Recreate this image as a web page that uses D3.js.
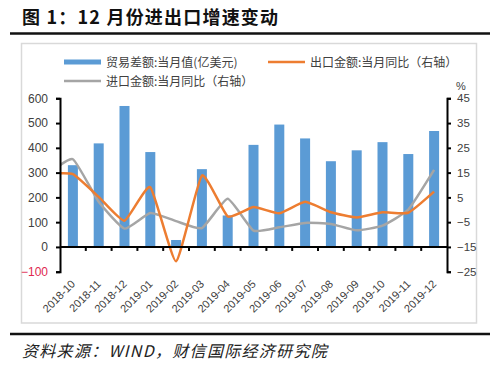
<!DOCTYPE html>
<html>
<head>
<meta charset="utf-8">
<script src="https://cdn.jsdelivr.net/npm/d3@7"></script>
<style>
  body { margin: 0; background: #fff; }
  svg { display: block; font-family: "Noto Sans CJK SC", "Noto Sans", sans-serif; }
</style>
</head>
<body>
<svg id="chart" width="500" height="368"></svg>
<script>
// months: first one (2018-09) only feeds the lines and sits left of the axis
const months = ['2018-09', '2018-10', '2018-11', '2018-12', '2019-01', '2019-02', '2019-03',
  '2019-04', '2019-05', '2019-06', '2019-07', '2019-08', '2019-09', '2019-10', '2019-11', '2019-12'];
const barMonths = months.slice(1);

// 贸易差额:当月值(亿美元)
const balance = [330, 418, 569, 383, 28, 314, 127, 412, 494, 438, 346, 390, 423, 375, 468];
// 出口金额:当月同比 (%)
const exportYoY = [14.5, 14.4, 5.2, -4.4, 9.1, -20.8, 13.8, -2.7, 1.1, -1.4, 3.2, -1.0, -3.1, -1.0, -1.2, 7.3];
// 进口金额:当月同比 (%)
const importYoY = [14.2, 20.4, 3.2, -7.6, -1.3, -4.6, -7.4, 4.4, -8.4, -7.1, -5.3, -5.7, -8.3, -6.4, 0.1, 16.1];

const leftTicks = [-100, 0, 100, 200, 300, 400, 500, 600];
const rightTicks = [-25, -15, -5, 5, 15, 25, 35, 45];

const svg = d3.select('#chart');
const plot = { left: 60, right: 447, top: 98.3, bottom: 271.7 };
const step = (plot.right - plot.left) / barMonths.length;

// band scale reaches one step further left so 2018-09 has a spot (clipped)
const x = d3.scaleBand()
    .domain(months)
    .range([plot.left - step, plot.right])
    .paddingInner(0);
const yL = d3.scaleLinear().domain([-100, 600]).range([plot.bottom, plot.top]);
const yR = d3.scaleLinear().domain([-25, 45]).range([plot.bottom, plot.top]);

// title + rules
svg.append('text')
    .attr('x', 22).attr('y', 24)
    .attr('font-size', 18).attr('font-weight', 'bold')
    .attr('letter-spacing', 1.2)
    .attr('fill', '#111')
    .text('图 1：12 月份进出口增速变动');
svg.append('line').attr('x1', 10).attr('x2', 490).attr('y1', 33.5).attr('y2', 33.5)
    .attr('stroke', '#111').attr('stroke-width', 2.5);
svg.append('line').attr('x1', 10).attr('x2', 490).attr('y1', 334).attr('y2', 334)
    .attr('stroke', '#111').attr('stroke-width', 2.5);
svg.append('text')
    .attr('x', 22).attr('y', 357)
    .attr('font-size', 16).attr('font-style', 'italic')
    .attr('letter-spacing', 1.3)
    .attr('fill', '#222')
    .text('资料来源：WIND，财信国际经济研究院');

// chart frame
svg.append('rect')
    .attr('x', 21.5).attr('y', 43.5).attr('width', 455).attr('height', 279.5)
    .attr('fill', 'none').attr('stroke', '#d9d9d9').attr('stroke-width', 1.5);

// bars
const barW = 10;
svg.append('g').selectAll('rect')
    .data(barMonths.map((m, i) => ({ m, v: balance[i] })))
    .join('rect')
    .attr('x', d => x(d.m) + x.bandwidth() / 2 - barW / 2)
    .attr('width', barW)
    .attr('y', d => yL(Math.max(0, d.v)))
    .attr('height', d => Math.abs(yL(d.v) - yL(0)))
    .attr('fill', '#5b9bd5');

// lines, clipped to the plot
svg.append('clipPath').attr('id', 'clip')
    .append('rect')
    .attr('x', plot.left).attr('y', 40)
    .attr('width', plot.right - plot.left).attr('height', 260);

const line = d3.line()
    .x((d, i) => x(months[i]) + x.bandwidth() / 2)
    .y(d => yR(d))
    .curve(d3.curveCardinal.tension(0.55));

const lines = svg.append('g').attr('clip-path', 'url(#clip)');
lines.append('path').datum(importYoY)
    .attr('d', line).attr('fill', 'none')
    .attr('stroke', '#a5a5a5').attr('stroke-width', 2.5);
lines.append('path').datum(exportYoY)
    .attr('d', line).attr('fill', 'none')
    .attr('stroke', '#ed7d31').attr('stroke-width', 2.5);

// left axis
const gL = svg.append('g')
    .attr('transform', `translate(${plot.left},0)`)
    .call(d3.axisLeft(yL).tickValues(leftTicks).tickSize(4).tickPadding(8));
// right axis
const gR = svg.append('g')
    .attr('transform', `translate(${plot.right},0)`)
    .call(d3.axisRight(yR).tickValues(rightTicks).tickSize(4).tickPadding(6));

[gL, gR].forEach(g => {
  g.select('.domain').attr('stroke', '#000').attr('stroke-width', 2);
  g.selectAll('.tick line').attr('stroke', '#000').attr('stroke-width', 2);
  g.selectAll('.tick text')
      .attr('font-size', 12)
      .attr('font-family', '"Liberation Sans", Arial, sans-serif')
      .attr('fill', '#404040');
});
gL.selectAll('.tick text').filter(d => d < 0).attr('fill', '#e0284f');
gR.selectAll('.tick text').attr('font-size', 11.5);

svg.append('text')
    .attr('x', 456).attr('y', 90)
    .attr('font-size', 11).attr('fill', '#404040')
    .attr('font-family', '"Liberation Sans", Arial, sans-serif')
    .text('%');

// x axis at zero, ticks between categories
const xAxisScale = d3.scaleBand().domain(barMonths).range([plot.left, plot.right]);
const gX = svg.append('g')
    .attr('transform', `translate(0,${yL(0)})`);
gX.append('line')
    .attr('x1', plot.left).attr('x2', plot.right)
    .attr('stroke', '#000').attr('stroke-width', 2);
gX.selectAll('.tk')
    .data(barMonths.slice(1))
    .join('line')
    .attr('class', 'tk')
    .attr('x1', d => xAxisScale(d)).attr('x2', d => xAxisScale(d))
    .attr('y1', 0).attr('y2', 4)
    .attr('stroke', '#000').attr('stroke-width', 2);

svg.append('g').selectAll('text')
    .data(barMonths)
    .join('text')
    .attr('transform', d => `translate(${xAxisScale(d) + xAxisScale.bandwidth() / 2 + 3},${plot.bottom + 13}) rotate(-45)`)
    .attr('text-anchor', 'end')
    .attr('font-size', 11)
    .attr('font-family', '"Liberation Sans", Arial, sans-serif')
    .attr('fill', '#404040')
    .text(d => d);

// legend
const leg = svg.append('g').attr('font-size', 12).attr('fill', '#404040');
leg.append('rect').attr('x', 64).attr('y', 59.5).attr('width', 37).attr('height', 5).attr('fill', '#5b9bd5');
leg.append('text').attr('x', 106).attr('y', 66.5).attr('fill', '#404040').text('贸易差额:当月值(亿美元)');
leg.append('line').attr('x1', 268).attr('x2', 305).attr('y1', 62).attr('y2', 62)
    .attr('stroke', '#ed7d31').attr('stroke-width', 2.5);
leg.append('text').attr('x', 310).attr('y', 66.5).attr('fill', '#404040').text('出口金额:当月同比（右轴）');
leg.append('line').attr('x1', 64).attr('x2', 101).attr('y1', 81).attr('y2', 81)
    .attr('stroke', '#a5a5a5').attr('stroke-width', 2.5);
leg.append('text').attr('x', 106).attr('y', 85.5).attr('fill', '#404040').text('进口金额:当月同比（右轴）');
</script>
</body>
</html>
